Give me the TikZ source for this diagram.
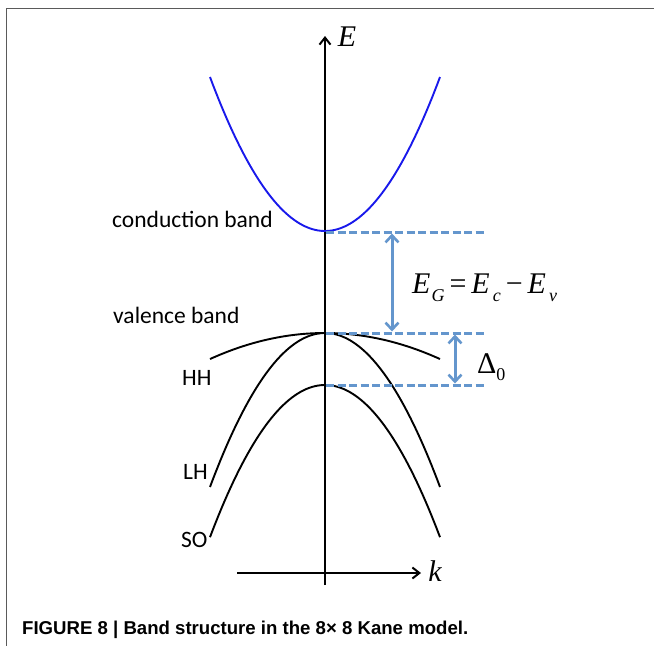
\documentclass[tikz,border=0pt]{standalone}
\usepackage{fontspec}
\setmainfont{Carlito}
\newfontfamily\tms{Liberation Serif}
\newfontfamily\capfont{Liberation Sans}
\usetikzlibrary{arrows.meta}
\definecolor{bandblue}{RGB}{25,25,235}
\definecolor{gapblue}{RGB}{100,150,205}
\definecolor{framegray}{RGB}{90,90,90}
\tikzset{
  lbl/.style={font=\fontsize{23.5}{26}\selectfont, inner sep=0pt, anchor=base west},
  mathlbl/.style={font=\tms\fontsize{30}{32}\selectfont, inner sep=0pt, anchor=base west},
  axisline/.style={line width=2.4pt, -{Straight Barb[length=7pt,width=11pt,line width=2pt]}},
  bandline/.style={line width=1.9pt},
  gapline/.style={gapblue, line width=3pt, dash pattern=on 8pt off 3.5pt},
  gaparrow/.style={gapblue, line width=3pt, {Straight Barb[length=7pt,width=13pt,line width=2.6pt]}-{Straight Barb[length=7pt,width=13pt,line width=2.6pt]}},
  framestyle/.style={framegray, line width=1.6pt}
}
\begin{document}
\begin{tikzpicture}[x=1pt,y=-1pt]
\useasboundingbox (0,0) rectangle (654,646);
% frame
\coordinate (fr1) at (654,8.5);
\coordinate (fr2) at (6.5,8.5);
\coordinate (fr3) at (6.5,646);
\draw[framestyle] (fr1) -- (fr2) -- (fr3);

% axes
\coordinate (ybot) at (325,585);
\coordinate (ytop) at (325,36);
\coordinate (xleft) at (237,573);
\coordinate (xright) at (421,573);
\draw[axisline] (ybot) -- (ytop);
\draw[axisline] (xleft) -- (xright);
\node[mathlbl, anchor=center] (elab) at (347,37) {\itshape E};
\node[mathlbl, anchor=center] (klab) at (435,571) {\itshape k};

% bands
\draw[bandline, bandblue] plot[domain=-115:115, samples=80] ({325+\x},{231-0.011645*\x*\x});
\draw[bandline] plot[domain=-115:115, samples=80] ({325+\x},{333+0.00197*\x*\x});
\draw[bandline] plot[domain=-115:115, samples=80] ({325+\x},{333+0.011645*\x*\x});
\draw[bandline] plot[domain=-115:115, samples=80] ({325+\x},{385+0.0115*\x*\x});

% levels
\coordinate (c0) at (326,232);
\coordinate (c1) at (485,232);
\coordinate (v0) at (326,333);
\coordinate (v1) at (485,333);
\coordinate (s0) at (326,385);
\coordinate (s1) at (485,385);
\draw[gapline] (c0) -- (c1);
\draw[gapline] (v0) -- (v1);
\draw[gapline] (s0) -- (s1);
\coordinate (ga) at (392,233.5);
\coordinate (gb) at (392,331.5);
\coordinate (da) at (455,334.5);
\coordinate (db) at (455,383.5);
\draw[gaparrow] (ga) -- (gb);
\draw[gaparrow] (da) -- (db);

% math labels
\node[mathlbl] (eg) at (412,293) {\itshape E\kern1pt\raisebox{-8pt}{\fontsize{18}{19}\selectfont G}\kern5pt\upshape=\kern5pt\itshape E\kern3pt\raisebox{-8pt}{\fontsize{18}{19}\selectfont c}\kern5pt\upshape−\kern5pt\itshape E\kern3pt\raisebox{-8pt}{\fontsize{18}{19}\selectfont v}};
\node[mathlbl] (delta) at (477,373) {Δ\raisebox{-7pt}{\fontsize{18}{19}\selectfont 0}};

% text labels
\node[lbl] (cb) at (112,227) {conduction band};
\node[lbl] (vb) at (113,323) {valence band};
\node[lbl] (hh) at (182,385) {HH};
\node[lbl] (lh) at (183,479) {LH};
\node[lbl] (so) at (181,547) {SO};

% caption
\node[inner sep=0pt, anchor=base west, font=\capfont\bfseries\fontsize{18.6}{21}\selectfont] (cap) at (22,634) {FIGURE 8 | Band structure in the 8× 8 Kane model.};
\end{tikzpicture}
\end{document}
